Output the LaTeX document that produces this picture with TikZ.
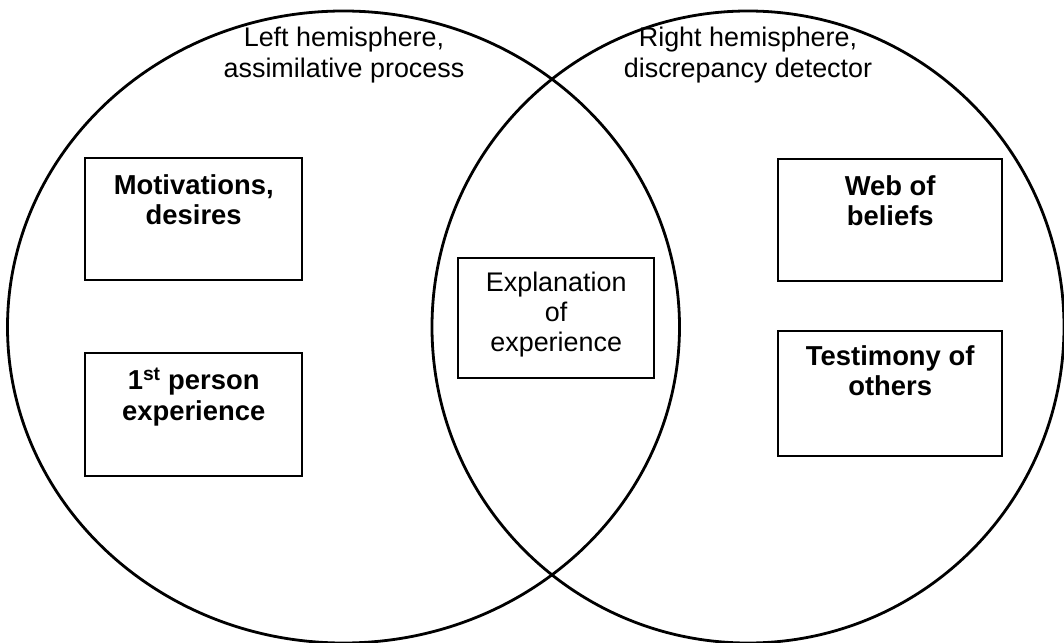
\documentclass[tikz,border=0pt]{standalone}
\usepackage{fontspec}
\setmainfont{Liberation Sans}
\usetikzlibrary{shapes.geometric}
\tikzset{
  hemi/.style={draw, ellipse, line width=2.8bp, inner sep=0pt},
  itembox/.style={draw, rectangle, line width=2.4bp, inner sep=0pt, anchor=north west},
  itemtext/.style={anchor=north, align=center, inner sep=0pt, font=\fontsize{27.5}{31}\selectfont\bfseries},
  midtext/.style={anchor=north, align=center, inner sep=0pt, font=\fontsize{27}{30}\selectfont},
  headtext/.style={anchor=north, align=center, inner sep=0pt, font=\fontsize{27}{31}\selectfont}
}
\begin{document}
\begin{tikzpicture}[x=1bp, y=-1bp]
  \useasboundingbox (0,0) rectangle (1064,643);
  \fill[white] (0,0) rectangle (1064,643);

  % the two hemispheres
  \node[hemi, minimum width=672bp, minimum height=632bp] (lefthemi) at (343.5,327) {};
  \node[hemi, minimum width=632bp, minimum height=632bp] (righthemi) at (748,327) {};

  % headings
  \node[headtext] (lefthead) at (344,27) {Left hemisphere,\\assimilative process};
  \node[headtext] (righthead) at (748,27) {Right hemisphere,\\discrepancy detector};

  % boxes of the left hemisphere
  \node[itembox, minimum width=217bp, minimum height=122bp] (motbox) at (84,157) {};
  \node[itemtext] (mottext) at ([yshift=-17bp]motbox.north) {Motivations,\\desires};
  \node[itembox, minimum width=217bp, minimum height=123bp] (perbox) at (84,352) {};
  \node[itemtext] (pertext) at ([yshift=-16bp]perbox.north) {1\textsuperscript{st} person\\experience};

  % shared box
  \node[itembox, minimum width=196bp, minimum height=120bp] (expbox) at (457,257) {};
  \node[midtext] (exptext) at ([yshift=-15bp]expbox.north) {Explanation\\of\\experience};

  % boxes of the right hemisphere
  \node[itembox, minimum width=224bp, minimum height=122bp] (webbox) at (777,158) {};
  \node[itemtext] (webtext) at ([yshift=-17bp]webbox.north) {Web of\\beliefs};
  \node[itembox, minimum width=224bp, minimum height=125bp] (tesbox) at (777,330) {};
  \node[itemtext] (testext) at ([yshift=-15bp]tesbox.north) {Testimony of\\others};
\end{tikzpicture}
\end{document}
